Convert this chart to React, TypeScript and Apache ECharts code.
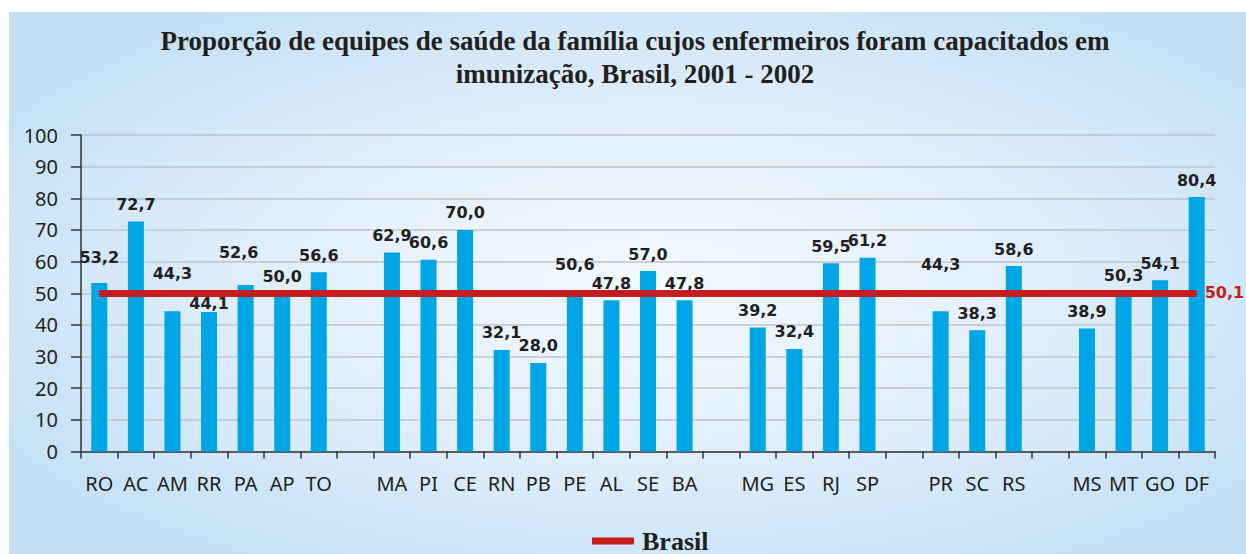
import React, { useEffect, useRef } from "react";
import * as echarts from "echarts";

const groupCodes: string[][] = [
  ["RO", "AC", "AM", "RR", "PA", "AP", "TO"],
  ["MA", "PI", "CE", "RN", "PB", "PE", "AL", "SE", "BA"],
  ["MG", "ES", "RJ", "SP"],
  ["PR", "SC", "RS"],
  ["MS", "MT", "GO", "DF"],
];
const groupValues: number[][] = [
  [53.2, 72.7, 44.3, 44.1, 52.6, 50.0, 56.6],
  [62.9, 60.6, 70.0, 32.1, 28.0, 50.6, 47.8, 57.0, 47.8],
  [39.2, 32.4, 59.5, 61.2],
  [44.3, 38.3, 58.6],
  [38.9, 50.3, 54.1, 80.4],
];
const brasilValue = 50.1;
const brasilName = "Brasil";
const yMin = 0;
const yMax = 100;
const yStep = 10;
const titleText =
  "Proporção de equipes de saúde da família cujos enfermeiros foram capacitados em\nimunização, Brasil, 2001 - 2002";

// label placement tweaks (style only)
const labelLift: Record<string, number> = { RO: 9, AM: 21, RR: -9, PA: 16, PE: 10, PR: 30 };
const labelShift: Record<string, number> = { PA: -7 };

const fmt = (v: number) => v.toFixed(1).replace(".", ",");

export default function App() {
  const ref = useRef<HTMLDivElement>(null);
  useEffect(() => {
    if (!ref.current) return;
    const chart = echarts.init(ref.current, undefined, { renderer: "svg" });

    const categories: string[] = [];
    const barData: any[] = [];
    groupCodes.forEach((codes, gi) => {
      codes.forEach((c, i) => {
        categories.push(c);
        const v = groupValues[gi][i];
        barData.push({
          value: v,
          label: {
            offset: [labelShift[c] || 0, -(labelLift[c] || 0)],
          },
        });
      });
      if (gi < groupCodes.length - 1) {
        categories.push(" ".repeat(gi + 1));
        barData.push("-");
      }
    });
    const firstCode = groupCodes[0][0];
    const lastGroup = groupCodes[groupCodes.length - 1];
    const lastCode = lastGroup[lastGroup.length - 1];

    const sans = "'Noto Sans', 'DejaVu Sans', sans-serif";
    const boldSans = "'DejaVu Sans', 'Noto Sans', sans-serif";
    const serif = "'Liberation Serif', 'DejaVu Serif', serif";

    chart.setOption({
      animation: false,
      graphic: [
        {
          type: "rect",
          z: -100,
          silent: true,
          shape: { x: 9, y: 12, width: 1237, height: 542 },
          style: {
            fill: new echarts.graphic.RadialGradient(0.52, 0.5, 0.62, [
              { offset: 0, color: "#F3F9FE" },
              { offset: 0.45, color: "#E3F0FB" },
              { offset: 1, color: "#C4E0F5" },
            ]),
          },
        },
      ],
      title: {
        text: titleText,
        left: 630,
        top: 19,
        textAlign: "center",
        textStyle: {
          fontFamily: serif,
          fontWeight: "bold",
          fontSize: 27,
          lineHeight: 33,
          color: "#231F20",
        },
      },
      legend: {
        data: [{ name: brasilName, icon: "rect" }],
        left: 587,
        top: 523,
        itemWidth: 42,
        itemHeight: 7,
        itemGap: 8,
        textStyle: {
          fontFamily: serif,
          fontWeight: "bold",
          fontSize: 26,
          color: "#231F20",
          padding: [0, 0, 0, 3],
        },
      },
      grid: { left: 81, right: 31, top: 135, bottom: 102.5 },
      xAxis: {
        type: "category",
        data: categories,
        boundaryGap: true,
        axisLine: { show: true, lineStyle: { color: "#333", width: 1.5 } },
        axisTick: {
          show: true,
          interval: 0,
          length: 7,
          lineStyle: { color: "#333", width: 1.5 },
        },
        axisLabel: {
          interval: 0,
          margin: 22,
          fontFamily: sans,
          fontSize: 20,
          color: "#231F20",
        },
      },
      yAxis: {
        type: "value",
        min: yMin,
        max: yMax,
        interval: yStep,
        axisLine: { show: true, lineStyle: { color: "#333", width: 1.5 } },
        axisTick: { show: true, length: 10, lineStyle: { color: "#333", width: 1.5 } },
        axisLabel: {
          margin: 23,
          fontFamily: sans,
          fontSize: 20,
          color: "#231F20",
        },
        splitLine: { show: true, lineStyle: { color: "#BFC4CA", width: 1.5 } },
      },
      series: [
        {
          type: "bar",
          name: "bars",
          data: barData,
          barWidth: 16,
          itemStyle: { color: "#00A5E6" },
          label: {
            show: true,
            position: "top",
            distance: 9,
            formatter: (p: any) => fmt(p.value),
            fontFamily: boldSans,
            fontWeight: "bold",
            fontSize: 16,
            color: "#231F20",
          },
          z: 2,
        },
        {
          type: "line",
          name: brasilName,
          data: [],
          z: 5,
          itemStyle: { color: "#C41E20" },
          lineStyle: { color: "#C41E20", width: 7 },
          markLine: {
            silent: true,
            symbol: ["none", "none"],
            lineStyle: { color: "#C41E20", width: 7, type: "solid" },
            label: {
              show: true,
              position: "end",
              distance: 8,
              formatter: fmt(brasilValue),
              fontFamily: boldSans,
              fontWeight: "bold",
              fontSize: 16,
              color: "#C41E20",
            },
            emphasis: { disabled: true },
            data: [
              [
                { coord: [firstCode, brasilValue] },
                { coord: [lastCode, brasilValue] },
              ],
            ],
          },
        },
      ],
    });
    return () => chart.dispose();
  }, []);
  return (
    <div
      ref={ref}
      style={{ position: "absolute", left: 0, top: 0, width: 1246, height: 554, background: "#fff" }}
    />
  );
}
